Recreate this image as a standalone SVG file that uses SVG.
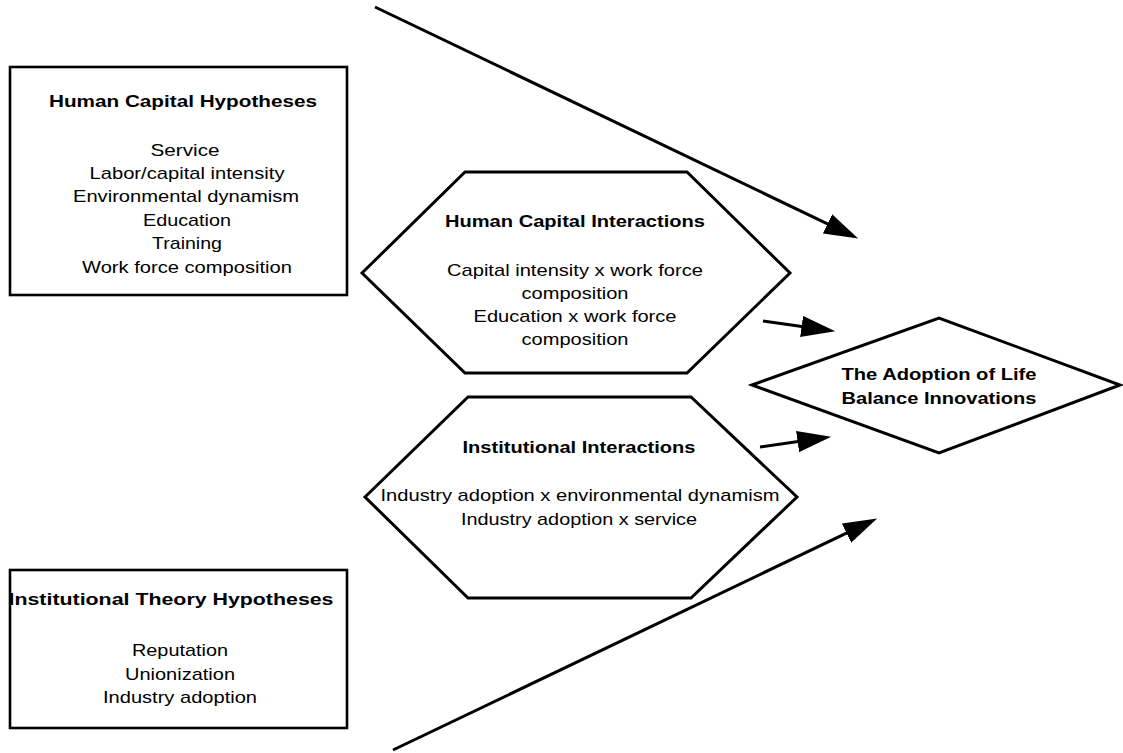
<svg xmlns="http://www.w3.org/2000/svg" width="1123" height="753" viewBox="0 0 1123 753">
<style>
  .shape { fill: #ffffff; stroke: #000000; stroke-width: 3; stroke-linejoin: miter; }
  .box { fill: #ffffff; stroke: #000000; stroke-width: 2.6; }
  .t { font-family: "Liberation Sans", Arial, sans-serif; font-size: 17px; fill: #000000; text-anchor: middle; }
  .b { font-weight: bold; }
  .conn { stroke: #000000; stroke-width: 3; fill: none; marker-end: url(#head); }
</style>
<defs>
  <marker id="head" markerUnits="userSpaceOnUse" markerWidth="34" markerHeight="22" viewBox="0 0 32 20" refX="12" refY="10" orient="auto">
    <path d="M0,0 L32,10 L0,20 z" fill="#000000"/>
  </marker>
</defs>
<rect width="1123" height="753" fill="#ffffff"/>

<g id="human-capital-hypotheses">
  <rect class="box" x="10" y="67" width="337" height="228"/>
  <text class="t b" x="183" y="107" textLength="268" lengthAdjust="spacingAndGlyphs">Human Capital Hypotheses</text>
  <text class="t" x="185" y="156" textLength="69" lengthAdjust="spacingAndGlyphs">Service</text>
  <text class="t" x="187" y="179" textLength="195" lengthAdjust="spacingAndGlyphs">Labor/capital intensity</text>
  <text class="t" x="186" y="202" textLength="226" lengthAdjust="spacingAndGlyphs">Environmental dynamism</text>
  <text class="t" x="187" y="226" textLength="88" lengthAdjust="spacingAndGlyphs">Education</text>
  <text class="t" x="187" y="249" textLength="70" lengthAdjust="spacingAndGlyphs">Training</text>
  <text class="t" x="187" y="273" textLength="210" lengthAdjust="spacingAndGlyphs">Work force composition</text>
</g>

<g id="institutional-theory-hypotheses">
  <rect class="box" x="10" y="570" width="337" height="158"/>
  <text class="t b" x="171" y="605" textLength="325" lengthAdjust="spacingAndGlyphs">Institutional Theory Hypotheses</text>
  <text class="t" x="180" y="656" textLength="96" lengthAdjust="spacingAndGlyphs">Reputation</text>
  <text class="t" x="180" y="680" textLength="110" lengthAdjust="spacingAndGlyphs">Unionization</text>
  <text class="t" x="180" y="703" textLength="154" lengthAdjust="spacingAndGlyphs">Industry adoption</text>
</g>

<g id="human-capital-interactions">
  <polygon class="shape" points="362,273 465,172 687,172 790,273 687,373 465,373"/>
  <text class="t b" x="575" y="227" textLength="260" lengthAdjust="spacingAndGlyphs">Human Capital Interactions</text>
  <text class="t" x="575" y="276" textLength="256" lengthAdjust="spacingAndGlyphs">Capital intensity x work force</text>
  <text class="t" x="575" y="299" textLength="107" lengthAdjust="spacingAndGlyphs">composition</text>
  <text class="t" x="575" y="322" textLength="203" lengthAdjust="spacingAndGlyphs">Education x work force</text>
  <text class="t" x="575" y="345" textLength="107" lengthAdjust="spacingAndGlyphs">composition</text>
</g>

<g id="institutional-interactions">
  <polygon class="shape" points="365,497 468,397 691,397 797,497 691,598 468,598"/>
  <text class="t b" x="579" y="453" textLength="233" lengthAdjust="spacingAndGlyphs">Institutional Interactions</text>
  <text class="t" x="580" y="501" textLength="399" lengthAdjust="spacingAndGlyphs">Industry adoption x environmental dynamism</text>
  <text class="t" x="579" y="525" textLength="236" lengthAdjust="spacingAndGlyphs">Industry adoption x service</text>
</g>

<g id="adoption-outcome">
  <polygon class="shape" points="752,385 939,318 1120,385 939,453"/>
  <text class="t b" x="939" y="380" textLength="195" lengthAdjust="spacingAndGlyphs">The Adoption of Life</text>
  <text class="t b" x="939" y="404" textLength="195" lengthAdjust="spacingAndGlyphs">Balance Innovations</text>
</g>

<g id="connectors">
  <line class="conn" x1="375" y1="7" x2="839" y2="229.4"/>
  <line class="conn" x1="393" y1="750" x2="858" y2="527.6"/>
  <line class="conn" x1="763" y1="321" x2="814.2" y2="328.2"/>
  <line class="conn" x1="760" y1="447" x2="810.2" y2="439.8"/>
</g>
</svg>
